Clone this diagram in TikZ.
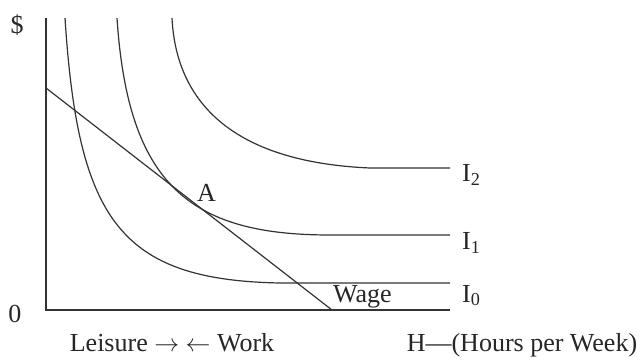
\documentclass[tikz,border=0pt]{standalone}
\usepackage{fontspec}
\setmainfont{Liberation Serif}
\usepackage{tikz}

\begin{document}
\begin{tikzpicture}[x=1pt, y=-1pt,
    curve/.style={line width=1.2pt, black!80},
    lbl/.style={font=\fontsize{26}{30}\selectfont, text=black!85, inner sep=0pt}]
        \useasboundingbox (0,0) rectangle (643,358);

        % axes
        \draw[curve] (46,18) -- (46,310) -- (450,310);
        \node[lbl] (dollar) at (17,25) {\$};
        \node[lbl] (zero) at (15,314) {0};

        % indifference curves
        \draw[curve] (65,18) .. controls (78,220) and (120,280) .. (280,283) -- (450,283);
        \draw[curve] (117,18) .. controls (128,185) and (190,235) .. (330,235) -- (450,235);
        \draw[curve] (172,18) .. controls (176,100) and (230,162) .. (370,168) -- (450,168);

        % wage line
        \coordinate (w0) at (46,88);
        \coordinate (w1) at (332,310);
        \draw[curve] (w0) -- (w1);

        % labels
        \node[lbl, anchor=base west] (i2) at (462,182) {I\textsubscript{2}};
        \node[lbl, anchor=base west] (i1) at (462,250) {I\textsubscript{1}};
        \node[lbl, anchor=base west] (i0) at (462,302) {I\textsubscript{0}};
        \node[lbl, anchor=base west] (wage) at (333,303) {Wage};
        \node[lbl, anchor=base west] (ptA) at (197,202) {A};
        \node[lbl, anchor=base] (leisure) at (172,352) {Leisure $\rightarrow$ $\leftarrow$ Work};
        \node[lbl, anchor=base] (hours) at (522,352) {H—(Hours per Week)};
      \end{tikzpicture}
\end{document}
